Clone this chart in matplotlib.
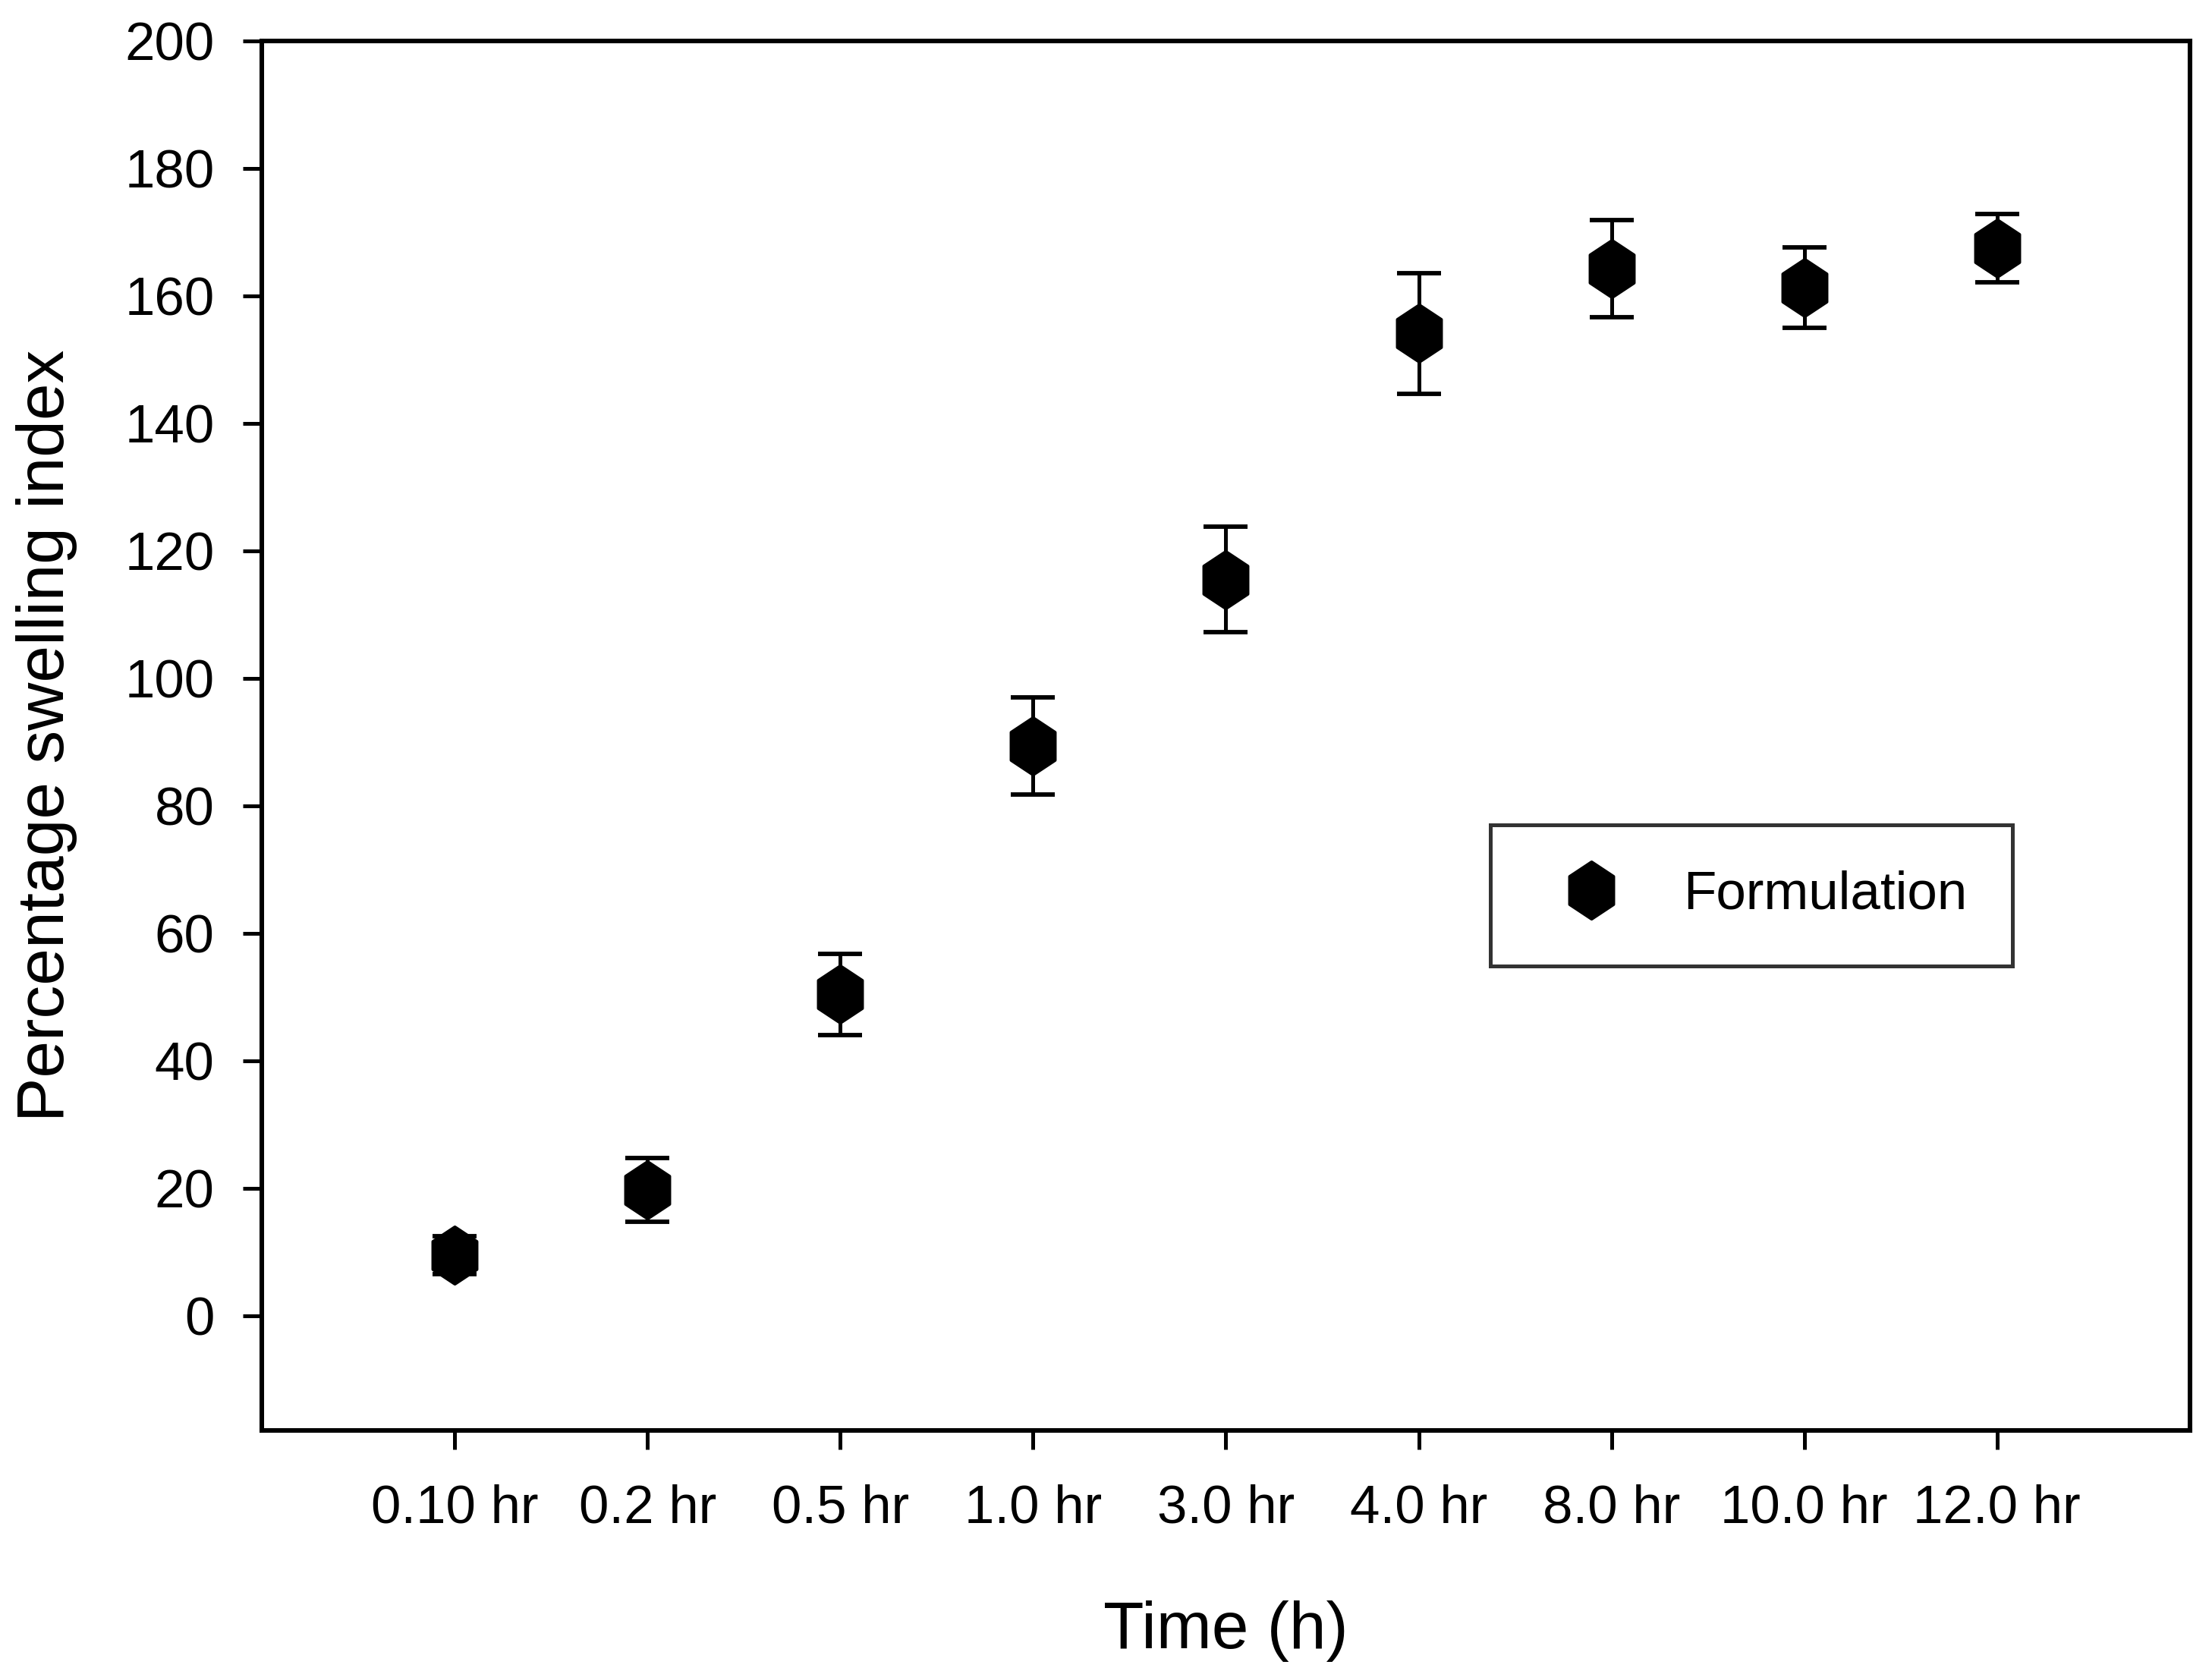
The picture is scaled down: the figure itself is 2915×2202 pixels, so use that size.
import matplotlib
matplotlib.use("Agg")
import matplotlib.pyplot as plt
from matplotlib.path import Path
from matplotlib.lines import Line2D

plt.rcParams['font.family'] = ['Liberation Sans', 'DejaVu Sans']

categories = ["0.10 hr", "0.2 hr", "0.5 hr", "1.0 hr", "3.0 hr", "4.0 hr", "8.0 hr", "10.0 hr", "12.0 hr"]
swelling = [9.5, 19.7, 50.4, 89.4, 115.5, 154.1, 164.3, 161.3, 167.5]
errors = [3.0, 5.0, 6.4, 7.6, 8.3, 9.5, 7.6, 6.3, 5.4]
yticks = [0, 20, 40, 60, 80, 100, 120, 140, 160, 180, 200]

positions = list(range(1, len(categories) + 1))

w = 0.77
hexagon = Path([(0, 1), (w, 0.49), (w, -0.49), (0, -1), (-w, -0.49), (-w, 0.49), (0, 1)],
               [Path.MOVETO] + [Path.LINETO] * 5 + [Path.CLOSEPOLY])

fig = plt.figure(figsize=(2915 / 300, 2202 / 300), dpi=300)
ax = fig.add_axes([0.1184, 0.1440, 0.990 - 0.1184, 0.9755 - 0.1440])

ax.errorbar(positions, swelling, yerr=errors, fmt='none', ecolor='black',
            elinewidth=1.2, capsize=7, capthick=1.4, zorder=2)
ax.plot(positions, swelling, linestyle='none', marker=hexagon, markersize=18,
        color='black', zorder=3)

ax.set_xlim(0, 10)
ax.set_ylim(-18, 200)
ax.set_xticks(positions)
ax.set_xticklabels(categories)
ax.set_yticks(yticks)

for s in ax.spines.values():
    s.set_linewidth(1.45)
ax.tick_params(direction='out', length=6, width=1.2, labelsize=17, pad=9)
ax.tick_params(axis='x', pad=11)

ax.set_xlabel("Time (h)", fontsize=21, labelpad=21)
ax.set_ylabel("Percentage swelling index", fontsize=21, labelpad=15)

handle = Line2D([], [], linestyle='none', marker=hexagon, markersize=18, color='black')
leg = ax.legend([handle], ["Formulation"], loc='upper left',
                bbox_to_anchor=(0.637, 0.436), fontsize=17, frameon=True,
                fancybox=False, edgecolor='black', borderpad=0.85,
                handlelength=2.07, handletextpad=0.67, borderaxespad=0)
leg.get_frame().set_linewidth(1.2)

fig.savefig("out.png", dpi=300)
